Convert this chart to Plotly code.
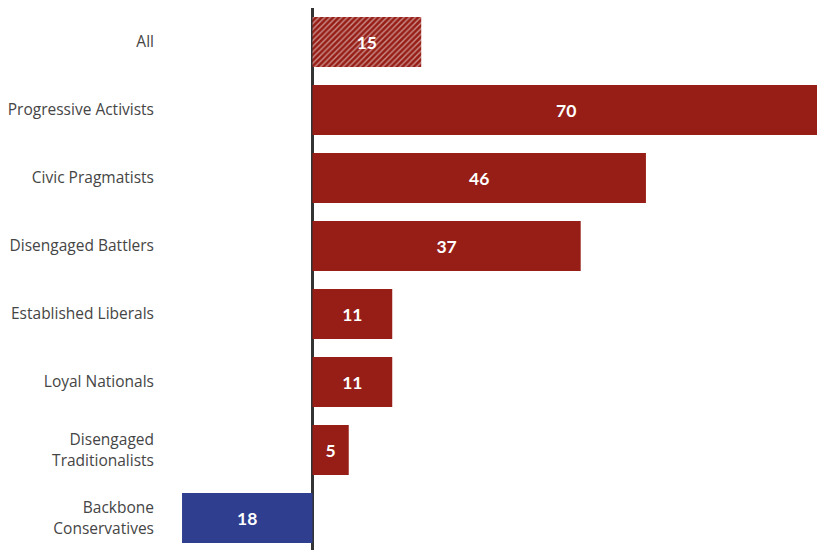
import plotly.graph_objects as go

categories = ["All", "Progressive Activists", "Civic Pragmatists", "Disengaged Battlers",
              "Established Liberals", "Loyal Nationals", "Disengaged<br>Traditionalists",
              "Backbone<br>Conservatives"]
values = [15, 70, 46, 37, 11, 11, 5, -18]
labels = ["15", "70", "46", "37", "11", "11", "5", "18"]

RED = "#961e16"
BLUE = "#2f3e8e"

colors = [RED if v >= 0 else BLUE for v in values]
shapes = ["/" if c == "All" else "" for c in categories]

fig = go.Figure(go.Bar(
    y=categories, x=values, orientation="h",
    marker=dict(color=colors, line=dict(width=0),
                pattern=dict(shape=shapes, fgcolor="#e3a098", bgcolor=RED,
                             size=4, solidity=0.35, fillmode="overlay")),
    text=labels, textposition="inside", insidetextanchor="middle",
    textfont=dict(family="Lato", size=17.5, color="white", weight="bold"),
    constraintext="none", cliponaxis=True,
))

fig.update_layout(
    width=817, height=550,
    margin=dict(l=170, r=0, t=8, b=0),
    paper_bgcolor="white", plot_bgcolor="white",
    bargap=0.265, showlegend=False,
    xaxis=dict(range=[-19.66, 69.6], showgrid=False, showticklabels=False, ticks="",
               zeroline=True, zerolinecolor="#333333", zerolinewidth=3, fixedrange=True),
    yaxis=dict(range=[7.47, -0.5], showgrid=False, ticks="", ticklabelstandoff=15,
               tickfont=dict(family="Open Sans", size=15.5, color="#454545"), fixedrange=True),
)

fig.write_html("out.html")
